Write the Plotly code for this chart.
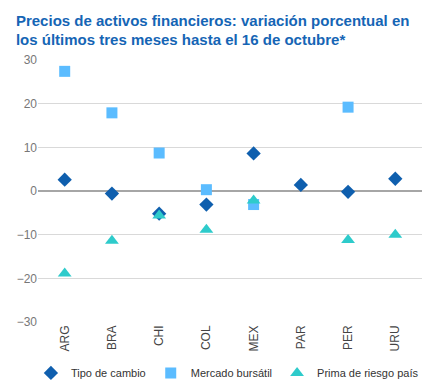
import plotly.graph_objects as go

categories = ["ARG", "BRA", "CHI", "COL", "MEX", "PAR", "PER", "URU"]
tipo_cambio = [2.6, -0.6, -5.2, -3.1, 8.6, 1.4, -0.2, 2.8]
mercado_bursatil = [27.4, 17.9, 8.7, 0.3, -3.1, None, 19.2, None]
prima_riesgo = [-18.9, -11.4, -5.6, -8.9, -2.2, None, -11.2, -10.0]
y_ticks = [-30, -20, -10, 0, 10, 20, 30]

fig = go.Figure()
fig.add_trace(go.Scatter(x=categories, y=mercado_bursatil, mode="markers", name="Mercado bursátil",
                         legendrank=2,
                         marker=dict(symbol="square", size=11, color="#5bbcff")))
fig.add_trace(go.Scatter(x=categories, y=tipo_cambio, mode="markers", name="Tipo de cambio",
                         legendrank=1,
                         marker=dict(symbol="diamond", size=11, color="#0f5fae")))
fig.add_trace(go.Scatter(x=categories, y=prima_riesgo, mode="markers", name="Prima de riesgo país",
                         legendrank=3,
                         marker=dict(symbol="triangle-up", size=12, color="#2ecbcb")))

fig.update_layout(
    width=443, height=388,
    margin=dict(l=38, r=21, t=60, b=66, autoexpand=False),
    paper_bgcolor="white", plot_bgcolor="white",
    font=dict(family="Liberation Sans, Arial", color="#555555", size=12),
    title=dict(text="<b>Precios de activos financieros: variación porcentual en<br>los últimos tres meses hasta el 16 de octubre*</b>",
               x=0.036, xanchor="left", y=0.934, yanchor="top",
               font=dict(size=15, color="#1565b5")),
    showlegend=True,
    legend=dict(orientation="h", xref="paper", x=1.005, xanchor="right",
                yref="paper", y=-0.139, yanchor="top",
                font=dict(size=11, color="#333333"), traceorder="normal",
                itemwidth=30),
    xaxis=dict(type="category", categoryorder="array", categoryarray=categories,
               tickangle=-90, showgrid=False, showline=False, ticks="", automargin=False,
               tickfont=dict(size=12, color="#444444")),
    yaxis=dict(range=[-30, 30], tickvals=y_ticks, showgrid=True, gridcolor="#d9d9d9", gridwidth=1,
               zeroline=True, zerolinecolor="#a6a6a6", zerolinewidth=1.5, ticks="", automargin=False,
               tickfont=dict(size=12, color="#777777")),
)

fig.write_html("out.html", config={"displayModeBar": False},
               post_script="document.body.style.margin='0';")
